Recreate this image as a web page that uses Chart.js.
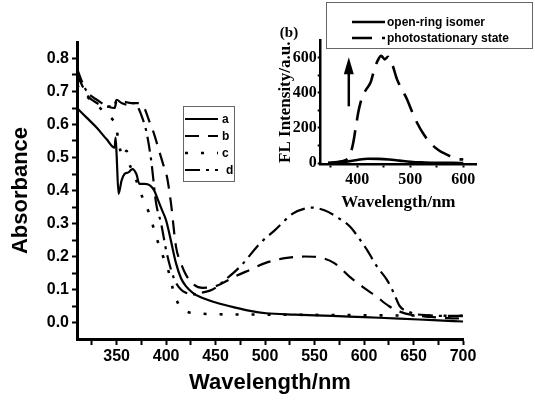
<!DOCTYPE html>
<html>
<head>
<meta charset="utf-8">
<script src="https://cdn.jsdelivr.net/npm/chart.js@4.4.1/dist/chart.umd.min.js"></script>
<style>
  html, body { margin: 0; padding: 0; background: #fff; }
  #wrap { position: relative; width: 535px; height: 400px; }
  #main { position: absolute; left: 0; top: 0; }
  #inset { position: absolute; left: 240px; top: 0; }
</style>
</head>
<body>
<div id="wrap">
  <canvas id="main" width="535" height="400"></canvas>
  <canvas id="inset" width="295" height="220"></canvas>
</div>
<script>
// main panel: absorbance spectra a-d
const wlA = [310,320,330,340,348,349,350,352,355,358,362,366,370,373,378,384,388,392,396,400,404,410,415,420,427,434,451,470,485,501,530,568,600,636,670,700];
const absA = [0.65,0.62,0.59,0.555,0.53,0.56,0.51,0.39,0.43,0.45,0.455,0.465,0.45,0.42,0.42,0.415,0.4,0.37,0.34,0.31,0.26,0.18,0.135,0.11,0.09,0.078,0.06,0.045,0.035,0.028,0.024,0.02,0.016,0.012,0.007,0.003];

const wlB = [310,315,320,330,340,348,350,355,365,372,378,383,388,392,397,401,405,410,415,420,428,437,450,470,485,500,520,540,555,570,585,600,612,625,636,650,667,685,700];
const absB = [0.75,0.72,0.69,0.665,0.655,0.65,0.67,0.67,0.665,0.665,0.65,0.61,0.57,0.53,0.48,0.44,0.36,0.23,0.18,0.145,0.115,0.105,0.11,0.14,0.16,0.18,0.195,0.2,0.197,0.18,0.14,0.105,0.08,0.05,0.033,0.022,0.017,0.013,0.012];

const wlC = [310,315,320,330,340,346,349,352,356,360,363,366,370,376,383,390,397,403,407,411,415,422,431,450,500,550,600,650,700];
const absC = [0.72,0.70,0.685,0.66,0.63,0.615,0.6,0.55,0.5,0.52,0.48,0.46,0.43,0.38,0.33,0.26,0.2,0.15,0.1,0.065,0.045,0.032,0.028,0.025,0.024,0.023,0.022,0.021,0.02];

const wlD = [310,315,320,325,330,335,340,345,348,350,355,362,368,372,376,380,385,390,395,400,405,410,415,420,428,436,447,460,475,495,510,528,540,548,560,575,586,595,603,613,623,630,636,645,653,665,680,700];
const absD = [0.77,0.73,0.70,0.685,0.675,0.665,0.655,0.655,0.66,0.675,0.665,0.66,0.665,0.65,0.62,0.58,0.49,0.36,0.30,0.22,0.16,0.12,0.10,0.09,0.085,0.09,0.10,0.13,0.17,0.24,0.28,0.33,0.345,0.348,0.34,0.315,0.29,0.255,0.22,0.17,0.13,0.09,0.05,0.033,0.025,0.022,0.02,0.02];

const seriesNames = ['a', 'b', 'c', 'd'];
const xTicksMain = [325,350,375,400,425,450,475,500,525,550,575,600,625,650,675,700];
const yTicksMain = [0,0.05,0.1,0.15,0.2,0.25,0.3,0.35,0.4,0.45,0.5,0.55,0.6,0.65,0.7,0.75,0.8];

// inset (b): fluorescence
const wlOpen = [345,360,380,400,420,440,460,480,500,520,540,560,580,600];
const flOpen = [0,3,8,18,25,24,20,14,8,4,2,1,1,0];
const wlPss = [345,370,385,392,397,402,406,415,425,432,438,445,452,458,465,475,485,494,503,513,525,538,555,570,585,600];
const flPss = [2,10,38,110,200,290,343,410,458,530,580,610,590,605,570,476,415,362,295,228,165,114,70,47,25,20];
const insetNames = ['open-ring isomer', 'photostationary state'];
const xTicksInset = [350,400,450,500,550,600];
const yTicksInset = [0,100,200,300,400,500,600];
const arrowWl = 384, arrowFrom = 323, arrowTo = 602;

const pts = (xs, ys) => xs.map((x, i) => ({ x: x, y: ys[i] }));
const sans = 'Liberation Sans, Arial, sans-serif';
const serif = 'Liberation Serif, Times New Roman, serif';

function drawKey(ctx, chart, box, rows, font) {
  ctx.save();
  ctx.strokeStyle = '#666';
  ctx.lineWidth = 1;
  ctx.strokeRect(box.x, box.y, box.w, box.h);
  chart.data.datasets.forEach((ds, i) => {
    const r = rows[i];
    ctx.beginPath();
    ctx.setLineDash(ds.borderDash || []);
    ctx.lineWidth = ds.borderWidth;
    ctx.strokeStyle = ds.borderColor;
    ctx.moveTo(r.x0, r.y);
    ctx.lineTo(r.x1, r.y);
    ctx.stroke();
    ctx.setLineDash([]);
    ctx.fillStyle = '#000';
    ctx.font = font;
    ctx.textBaseline = 'middle';
    ctx.fillText(ds.label, r.tx, r.y + 1);
  });
  ctx.restore();
}

function axisOpts(o) {
  return {
    type: 'linear',
    min: o.min, max: o.max,
    afterBuildTicks: s => { s.ticks = o.ticks.map(v => ({ value: v })); },
    afterFit: o.fit,
    border: { display: true, width: o.bw, color: '#000' },
    grid: { drawOnChartArea: false, drawTicks: true, tickLength: o.tl, tickWidth: 2, tickColor: '#000' },
    ticks: { color: '#000', font: o.tf, padding: o.tp, maxRotation: 0, autoSkip: false, callback: o.cb },
    title: { display: true, text: o.title, color: '#000', font: o.titleFont, padding: o.titlePad }
  };
}

const mainDecor = {
  id: 'mainDecor',
  afterDraw(chart) {
    drawKey(chart.ctx, chart, { x: 183.5, y: 106.5, w: 51, h: 75 }, [
      { y: 119, x0: 185, x1: 218, tx: 222 },
      { y: 136, x0: 185, x1: 218, tx: 222 },
      { y: 153, x0: 185, x1: 218, tx: 222 },
      { y: 170, x0: 185, x1: 218, tx: 226 }
    ], 'bold 12px ' + sans);
  }
};

new Chart(document.getElementById('main'), {
  type: 'line',
  data: {
    datasets: [
      { label: seriesNames[0], data: pts(wlA, absA), borderColor: '#000', borderWidth: 2.2, borderDash: [] },
      { label: seriesNames[1], data: pts(wlB, absB), borderColor: '#000', borderWidth: 2.2, borderDash: [14, 9] },
      { label: seriesNames[2], data: pts(wlC, absC), borderColor: '#000', borderWidth: 2.6, borderDash: [3, 13] },
      { label: seriesNames[3], data: pts(wlD, absD), borderColor: '#000', borderWidth: 2.2, borderDash: [15, 6, 3, 6] }
    ]
  },
  options: {
    responsive: false,
    animation: false,
    parsing: false,
    layout: { padding: { left: 0, right: 72, top: 42, bottom: 0 } },
    elements: { point: { radius: 0 }, line: { cubicInterpolationMode: 'monotone', fill: false } },
    plugins: { legend: { display: false }, tooltip: { enabled: false } },
    scales: {
      x: axisOpts({
        min: 310, max: 700, ticks: xTicksMain, bw: 3, tl: 6, tp: 2,
        fit: s => { s.height = 61; },
        tf: { family: sans, weight: 'bold', size: 16 },
        cb: v => (v % 50 === 0 ? String(v) : ''),
        title: 'Wavelength/nm',
        titleFont: { family: sans, weight: 'bold', size: 22 },
        titlePad: { top: 2, bottom: 4 }
      }),
      y: axisOpts({
        min: -0.05, max: 0.85, ticks: yTicksMain, bw: 3, tl: 5, tp: 3,
        fit: s => { s.width = 77; },
        tf: { family: sans, weight: 'bold', size: 16 },
        cb: v => (Math.round(v * 100) % 10 === 0 ? v.toFixed(1) : ''),
        title: 'Absorbance',
        titleFont: { family: sans, weight: 'bold', size: 22 },
        titlePad: { top: 8, bottom: 0 }
      })
    }
  },
  plugins: [mainDecor]
});

const insetDecor = {
  id: 'insetDecor',
  afterDraw(chart) {
    const ctx = chart.ctx;
    drawKey(ctx, chart, { x: 86.5, y: 2.5, w: 206, h: 46 }, [
      { y: 22, x0: 112, x1: 145, tx: 147 },
      { y: 38, x0: 112, x1: 145, tx: 147 }
    ], 'bold 12px ' + sans);

    ctx.save();
    ctx.fillStyle = '#000';
    ctx.font = 'bold 15px ' + serif;
    ctx.textAlign = 'center';
    ctx.textBaseline = 'middle';
    ctx.fillText('(b)', 49, 33);

    const px = chart.scales.x.getPixelForValue(arrowWl);
    const yb = chart.scales.y.getPixelForValue(arrowFrom);
    const yt = chart.scales.y.getPixelForValue(arrowTo);
    ctx.strokeStyle = '#000';
    ctx.lineWidth = 2.5;
    ctx.beginPath();
    ctx.moveTo(px, yb);
    ctx.lineTo(px, yt + 12);
    ctx.stroke();
    ctx.beginPath();
    ctx.moveTo(px, yt);
    ctx.lineTo(px - 5, yt + 17);
    ctx.lineTo(px + 5, yt + 17);
    ctx.closePath();
    ctx.fill();
    ctx.restore();
  }
};

new Chart(document.getElementById('inset'), {
  type: 'line',
  data: {
    datasets: [
      { label: insetNames[0], data: pts(wlOpen, flOpen), borderColor: '#000', borderWidth: 2.6, borderDash: [] },
      { label: insetNames[1], data: pts(wlPss, flPss), borderColor: '#000', borderWidth: 2.6, borderDash: [20, 10] }
    ]
  },
  options: {
    responsive: false,
    animation: false,
    parsing: false,
    layout: { padding: { left: 0, right: 59, top: 40, bottom: 0 } },
    elements: { point: { radius: 0 }, line: { cubicInterpolationMode: 'monotone', fill: false } },
    plugins: { legend: { display: false }, tooltip: { enabled: false } },
    scales: {
      x: axisOpts({
        min: 331, max: 624, ticks: xTicksInset, bw: 2.5, tl: 3, tp: 3,
        fit: s => { s.height = 55.5; },
        tf: { family: serif, weight: 'bold', size: 16 },
        cb: v => (v % 100 === 0 ? String(v) : ''),
        title: 'Wavelength/nm',
        titleFont: { family: serif, weight: 'bold', size: 17 },
        titlePad: { top: 0, bottom: 7 }
      }),
      y: axisOpts({
        min: -8, max: 700, ticks: yTicksInset, bw: 2.5, tl: 3, tp: 1,
        fit: s => { s.width = 80.7; },
        tf: { family: serif, weight: 'bold', size: 16 },
        cb: v => (v % 200 === 0 ? String(v) : ''),
        title: 'FL Intensity/a.u.',
        titleFont: { family: serif, weight: 'bold', size: 17 },
        titlePad: { top: 35, bottom: 0 }
      })
    }
  },
  plugins: [insetDecor]
});
</script>
</body>
</html>
